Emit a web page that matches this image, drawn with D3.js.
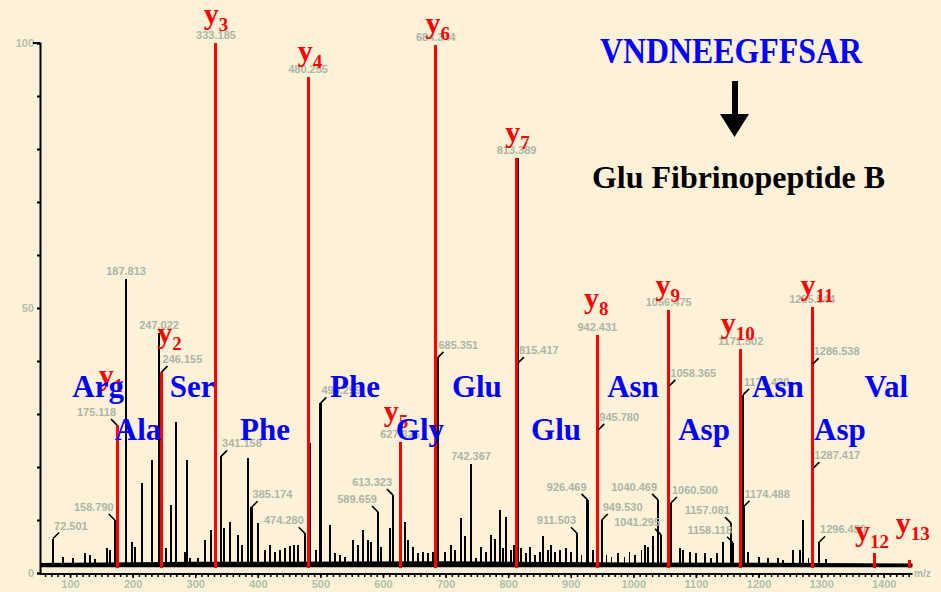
<!DOCTYPE html>
<html>
<head>
<meta charset="utf-8">
<script src="https://cdn.jsdelivr.net/npm/d3@7"></script>
<style>
  html, body { margin: 0; padding: 0; background: #fdf1d8; }
  svg { display: block; }
</style>
</head>
<body>
<div id="chart"></div>
<script>
// ----------------------------
// Data
// ----------------------------
const ionNames = ['1', '2', '3', '4', '5', '6', '7', '8', '9', '10', '11', '12', '13'];
const ionMz = [175.12, 246.16, 333.19, 480.26, 627.33, 684.35, 813.39, 942.43, 1056.47, 1171.50, 1285.55, 1384.61, 1441.64];
const ionIntensity = [27.9, 37.9, 100, 93.6, 24.7, 99.6, 78.3, 44.9, 49.6, 42.3, 50.2, 3.8, 2.5];
const ionMassText = ['175.118', '246.155', '333.185', '480.255', '627.326', '684.344', '813.389', '942.431', '1056.475', '1171.502', '1285.544', '', ''];

const peakMz = [72.9, 88.8, 104.8, 123.5, 131.5, 139.5, 159.6, 163.4, 171.4, 189.5, 199.6, 203.4, 214.6, 231.0, 242.2,
  253.9, 261.0, 269.4, 283.3, 287.0, 291.2, 304.5, 315.2, 325.8, 341.3, 346.0, 355.2, 368.4, 374.8, 384.4, 390.0,
  400.4, 411.0, 419.0, 427.0, 435.0, 443.0, 451.0, 458.0, 464.3, 475.0, 483.5, 493.5, 500.0, 515.0, 523.0, 531.0,
  539.0, 552.0, 560.0, 568.0, 576.0, 581.4, 592.0, 597.4, 610.8, 616.0, 635.0, 640.0, 648.0, 656.0, 664.0, 672.0,
  680.0, 687.0, 698.7, 709.0, 714.6, 724.2, 730.6, 740.7, 749.0, 757.0, 765.0, 773.0, 779.5, 786.5, 791.8, 797.0,
  805.0, 809.4, 815.2, 815.6, 821.0, 829.0, 834.5, 842.5, 850.5, 855.7, 863.7, 869.0, 874.5, 882.4, 893.0, 901.0,
  910.0, 917.0, 926.8, 935.6, 944.0, 949.5, 957.0, 965.0, 975.5, 986.0, 994.0, 1002.0, 1013.0, 1018.0, 1023.5,
  1031.5, 1039.5, 1044.3, 1057.5, 1060.0, 1074.0, 1079.4, 1090.0, 1100.7, 1114.0, 1124.6, 1134.0, 1143.3, 1156.0,
  1159.3, 1175.3, 1176.0, 1183.0, 1201.0, 1215.0, 1231.0, 1239.0, 1255.0, 1266.0, 1271.0, 1279.7, 1286.5, 1287.5,
  1296.7, 1308.0];
const peakIntensity = [6.5, 3.0, 2.8, 3.7, 3.4, 2.6, 4.8, 4.3, 10.0, 55.5, 5.9, 5.0, 16.9, 21.3, 45.3,
  4.7, 12.8, 28.5, 4.0, 21.3, 2.8, 2.8, 6.2, 8.1, 22.0, 8.4, 9.7, 7.2, 5.3, 21.7, 12.4,
  9.4, 4.3, 5.3, 4.0, 4.3, 4.7, 5.1, 5.3, 5.3, 7.5, 24.5, 4.3, 32.0, 9.1, 3.7, 3.4,
  3.1, 6.2, 5.3, 8.1, 6.2, 5.9, 11.5, 5.0, 8.4, 14.7, 9.7, 6.2, 5.0, 3.7, 4.0, 3.7,
  4.0, 40.6, 4.0, 5.3, 4.3, 10.3, 6.9, 20.6, 2.8, 5.0, 4.0, 7.2, 6.5, 11.9, 4.7, 10.6,
  4.3, 5.3, 78.3, 39.6, 4.7, 3.7, 5.0, 3.4, 4.0, 6.9, 4.3, 5.3, 4.0, 4.3, 4.8, 4.0,
  7.5, 3.4, 13.8, 4.3, 27.0, 10.0, 3.4, 3.0, 3.7, 3.1, 4.0, 3.4, 4.3, 5.3, 5.0,
  6.9, 13.8, 7.2, 35.3, 13.2, 4.7, 4.3, 4.0, 3.7, 3.7, 2.8, 3.7, 5.9, 9.4,
  5.7, 33.6, 12.5, 4.0, 3.1, 2.8, 2.8, 2.5, 4.3, 4.3, 10.0, 2.8, 39.4, 19.8,
  5.8, 2.6];

// chemical noise floor along the baseline: [m/z, top %]
const noiseFloor = [[52, 1.9], [300, 2.1], [700, 2.2], [1000, 2.0], [1300, 1.9], [1446, 1.8]];
const floorBase = 1.1;

const massLabelMz = [72.9, 171.4, 189.5, 242.2, 341.3, 390.0, 475.0, 500.0, 592.0, 616.0, 687.0, 740.7, 815.6,
  926.8, 910.0, 944.0, 949.5, 1039.5, 1044.3, 1057.5, 1060.0, 1156.0, 1159.3, 1175.3, 1176.0, 1286.5, 1287.5, 1296.7];
const massLabelText = ['72.501', '158.790', '187.813', '247.022', '341.158', '385.174', '474.280', '498.259', '589.659',
  '613.323', '685.351', '742.367', '815.417', '926.469', '911.503', '945.780', '949.530', '1040.469', '1041.295',
  '1058.365', '1060.500', '1157.081', '1158.118', '1173.420', '1174.488', '1286.538', '1287.417', '1296.450'];

const residueNames = ['Arg', 'Ala', 'Ser', 'Phe', 'Phe', 'Gly', 'Glu', 'Glu', 'Asn', 'Asp', 'Asn', 'Asp', 'Val'];
const residueMz = [144.8, 208.7, 295.0, 411.6, 555.4, 659.0, 750.0, 876.5, 999.5, 1113.0, 1231.0, 1330.0, 1404.0];

const xTicks = [100, 200, 300, 400, 500, 600, 700, 800, 900, 1000, 1100, 1200, 1300, 1400];
const yTicks = [0, 10, 20, 30, 40, 50, 60, 70, 80, 90, 100];
const yTickLabels = ['0', '', '', '', '', '50', '', '', '', '', '100'];

// ----------------------------
// Layout (not data)
// ----------------------------
const massLabelSide = ['r', 'l', 'top', 'top', 'r', 'r', 'l', 'r', 'l', 'l', 'r', 'top', 'r',
  'l', 'l', 'r', 'r', 'l', 'l', 'r', 'r', 'l', 'l', 'r', 'r', 'r', 'r', 'r'];
const ionMassSide = ['l', 'r', 'top', 'top', 'top', 'top', 'top', 'top', 'top', 'top', 'top', 'top', 'top'];
// y-label offset from the peak tip: [dx, dy]
const ionLabelShift = [[-6, -40], [8, -29], [0, -19], [2, -16], [-4, -21], [2, -12], [1, -16],
  [-1, -27], [-1, -15], [-3, -16], [5, -12], [-2, -12], [3, -27]];

const W = 941, H = 592;
const SERIF = "'Liberation Serif', 'Times New Roman', serif";
const SANS = "'Liberation Sans', Arial, sans-serif";
const GRAY = '#aab6a6';

const svg = d3.select('#chart').append('svg')
  .attr('width', W)
  .attr('height', H);

svg.append('rect').attr('width', W).attr('height', H).attr('fill', '#fdf1d8');

const x = d3.scaleLinear().domain([52, 1446]).range([40, 912.5]);
const y = d3.scaleLinear().domain([0, 100]).range([573, 43]);

// ----------------------------
// Axes
// ----------------------------
const xAxisG = svg.append('g').attr('transform', 'translate(0,574)');
xAxisG.call(d3.axisBottom(x).tickValues(d3.range(60, 1446, 10)).tickSize(3).tickFormat(''));
xAxisG.select('.domain').remove();
xAxisG.selectAll('line').attr('stroke', '#000').attr('stroke-width', 1.5);

const xLabelG = svg.append('g').attr('transform', 'translate(0,574)');
xLabelG.call(d3.axisBottom(x).tickValues(xTicks).tickSize(4).tickPadding(2).tickFormat(d3.format('d')));
xLabelG.select('.domain').remove();
xLabelG.selectAll('line').attr('stroke', '#000').attr('stroke-width', 1.5);
xLabelG.selectAll('text')
  .attr('fill', '#adc2ab')
  .style('font', `bold 11px ${SANS}`);

svg.append('line')
  .attr('x1', 39).attr('x2', x(1446))
  .attr('y1', 574).attr('y2', 574)
  .attr('stroke', '#000').attr('stroke-width', 2);

const yAxisG = svg.append('g').attr('transform', 'translate(40,0)');
yAxisG.call(d3.axisLeft(y).tickValues(yTicks).tickSize(3).tickPadding(3)
  .tickFormat((d, i) => yTickLabels[i]));
yAxisG.select('.domain').attr('stroke', '#000').attr('stroke-width', 2);
yAxisG.selectAll('line').attr('stroke', '#000').attr('stroke-width', 2);
yAxisG.selectAll('text')
  .attr('fill', '#adc2ab')
  .style('font', `bold 11px ${SANS}`);

svg.append('line')
  .attr('x1', 33).attr('x2', 40)
  .attr('y1', y(100)).attr('y2', y(100))
  .attr('stroke', '#000').attr('stroke-width', 2);

svg.append('text')
  .attr('x', 914).attr('y', 577)
  .attr('fill', '#adb5ab')
  .style('font', `bold 10px ${SANS}`)
  .text('m/z');

// ----------------------------
// Spectrum
// ----------------------------
svg.append('path')
  .datum(noiseFloor)
  .attr('d', d3.area()
    .x(d => x(d[0]))
    .y0(y(floorBase))
    .y1(d => y(d[1])))
  .attr('fill', '#000');

const peaks = peakMz.map((m, i) => ({ mz: m, intensity: peakIntensity[i] }));

svg.append('g')
  .selectAll('line')
  .data(peaks)
  .enter()
  .append('line')
  .attr('x1', d => x(d.mz)).attr('x2', d => x(d.mz))
  .attr('y1', y(floorBase)).attr('y2', d => y(d.intensity))
  .attr('stroke', '#000')
  .attr('stroke-width', d => d.intensity > 12 ? 2.2 : 1.8)
  .attr('shape-rendering', 'crispEdges');

const ions = ionMz.map((m, i) => ({
  name: ionNames[i], mz: m, intensity: ionIntensity[i], text: ionMassText[i],
  side: ionMassSide[i], shift: ionLabelShift[i]
}));

svg.append('g')
  .selectAll('line')
  .data(ions)
  .enter()
  .append('line')
  .attr('x1', d => x(d.mz)).attr('x2', d => x(d.mz))
  .attr('y1', y(floorBase) + 1).attr('y2', d => y(d.intensity))
  .attr('stroke', '#ff0000')
  .attr('stroke-width', 3)
  .attr('shape-rendering', 'crispEdges');

// ----------------------------
// m/z labels (grey) with leaders
// ----------------------------
function intensityAt(mz) {
  const i = peakMz.indexOf(mz);
  return i >= 0 ? peakIntensity[i] : 0;
}

const massLabels = massLabelMz.map((m, i) => ({
  mz: m, intensity: intensityAt(m), text: massLabelText[i], side: massLabelSide[i]
})).concat(ions.filter(d => d.text).map(d => ({
  mz: d.mz, intensity: d.intensity, text: d.text, side: d.side
})));

const labelG = svg.append('g');

massLabels.forEach(d => {
  const tx = x(d.mz), ty = y(d.intensity);
  if (d.side === 'top') {
    labelG.append('text')
      .attr('x', tx).attr('y', ty - 4)
      .attr('text-anchor', 'middle')
      .attr('fill', GRAY)
      .style('font', `bold 11px ${SANS}`)
      .text(d.text);
    return;
  }
  const s = d.side === 'r' ? 1 : -1;
  labelG.append('line')
    .attr('x1', tx).attr('y1', ty)
    .attr('x2', tx + s * 6).attr('y2', ty - 6)
    .attr('stroke', '#000').attr('stroke-width', 1.6);
  labelG.append('text')
    .attr('x', tx + s * 1).attr('y', ty - 9)
    .attr('text-anchor', s > 0 ? 'start' : 'end')
    .attr('fill', GRAY)
    .style('font', `bold 11px ${SANS}`)
    .text(d.text);
});

// ----------------------------
// y-ion labels (red)
// ----------------------------
const ionLabel = svg.append('g')
  .selectAll('text')
  .data(ions)
  .enter()
  .append('text')
  .attr('x', d => x(d.mz) + d.shift[0])
  .attr('y', d => y(d.intensity) + d.shift[1])
  .attr('text-anchor', 'middle')
  .attr('fill', '#ff0000')
  .style('font-family', SERIF)
  .style('font-weight', 'bold');

ionLabel.append('tspan').style('font-size', '30px').text('y');
ionLabel.append('tspan').attr('dy', 7).style('font-size', '19px').text(d => d.name);

// ----------------------------
// Residue labels (blue)
// ----------------------------
svg.append('g')
  .selectAll('text')
  .data(residueNames)
  .enter()
  .append('text')
  .attr('x', (d, i) => x(residueMz[i]))
  .attr('y', (d, i) => i % 2 === 0 ? 397 : 440)
  .attr('text-anchor', 'middle')
  .attr('fill', '#0000ff')
  .style('font', `bold 31px ${SERIF}`)
  .text(d => d);

// ----------------------------
// Sequence annotation
// ----------------------------
svg.append('text')
  .attr('x', 600).attr('y', 63)
  .attr('textLength', 262)
  .attr('lengthAdjust', 'spacingAndGlyphs')
  .attr('fill', '#0000ff')
  .style('font', `bold 36px ${SERIF}`)
  .text('VNDNEEGFFSAR');

svg.append('rect')
  .attr('x', 732).attr('y', 81).attr('width', 6).attr('height', 36)
  .attr('fill', '#000');
svg.append('path')
  .attr('d', 'M720,114 L749,114 L734.5,137 Z')
  .attr('fill', '#000');

svg.append('text')
  .attr('x', 592).attr('y', 188)
  .attr('textLength', 293)
  .attr('lengthAdjust', 'spacingAndGlyphs')
  .attr('fill', '#000')
  .style('font', `bold 31px ${SERIF}`)
  .text('Glu Fibrinopeptide B');
</script>
</body>
</html>
